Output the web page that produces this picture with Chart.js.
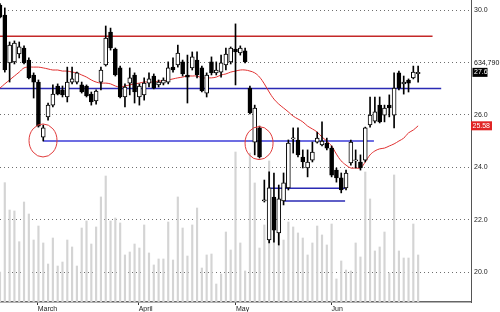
<!DOCTYPE html>
<html lang="en">
<head>
<meta charset="UTF-8">
<title>Daily price chart</title>
<script src="https://cdn.jsdelivr.net/npm/chart.js"></script>
<style>
    html, body { margin: 0; padding: 0; background: #fff; }
    #chart { display: block; }
</style>
</head>
<body>
<canvas id="chart" width="500" height="312"></canvas>
<script>
// one entry per trading day, day index 0..87
const opens = [30.19, 29.81, 27.98, 28.02, 28.32, 28.55, 28.09, 27.52, 27.25, 25.15,
    25.92, 26.37, 27.10, 26.95, 26.68, 27.25, 27.25, 27.14, 27.10, 26.79,
    26.53, 27.25, 27.90, 29.16, 28.51, 27.79, 26.68, 27.21, 27.52, 26.68,
    26.76, 27.21, 27.48, 27.14, 27.21, 27.25, 27.82, 27.90, 28.02, 27.52,
    27.79, 28.09, 27.79, 26.83, 28.02, 27.60, 27.63, 27.90, 28.02, 28.51,
    28.36, 28.44, 27.02, 24.96, 25.50, 22.71, 21.22, 22.86, 21.49, 22.71,
    23.21, 25.08, 25.04, 24.39, 23.97, 24.27, 24.96, 24.85, 24.92, 24.73,
    23.89, 23.59, 23.21, 24.16, 24.24, 24.20, 24.27, 25.61, 25.76, 26.37,
    25.99, 26.37, 25.99, 27.60, 27.18, 27.33, 27.41, 27.57];
const highs = [30.25, 30.08, 28.78, 28.82, 28.78, 28.63, 28.17, 27.60, 27.33, 25.61,
    26.45, 27.14, 27.18, 27.10, 27.82, 27.82, 27.63, 27.25, 27.14, 26.87,
    26.95, 27.82, 29.39, 29.31, 28.55, 27.86, 27.18, 27.79, 27.60, 27.18,
    27.41, 27.60, 27.56, 27.33, 27.41, 28.02, 28.17, 28.66, 28.09, 28.28,
    28.40, 28.40, 27.86, 27.60, 28.21, 28.02, 28.28, 28.55, 28.59, 29.47,
    28.63, 28.55, 27.10, 26.37, 25.57, 23.51, 23.82, 23.78, 23.32, 23.78,
    25.04, 25.50, 25.50, 24.66, 24.66, 24.96, 25.34, 25.73, 25.11, 24.81,
    23.97, 23.78, 23.89, 25.04, 24.66, 24.47, 25.53, 26.68, 26.68, 26.68,
    26.37, 26.76, 27.60, 27.67, 27.48, 27.37, 27.86, 27.86];
const lows = [29.70, 27.63, 27.25, 27.94, 28.17, 27.94, 27.37, 26.64, 25.53, 25.00,
    25.80, 26.30, 26.76, 26.68, 26.49, 27.18, 27.18, 26.83, 26.68, 26.37,
    26.41, 26.95, 27.86, 28.47, 27.48, 26.64, 26.30, 26.76, 26.45, 26.37,
    26.56, 27.06, 26.99, 27.06, 27.14, 27.18, 27.63, 27.82, 27.48, 26.45,
    27.71, 27.41, 26.87, 26.68, 27.52, 27.52, 27.44, 27.71, 27.94, 27.14,
    28.28, 27.98, 26.03, 24.47, 24.35, 22.67, 21.11, 21.14, 21.03, 22.56,
    23.13, 24.54, 24.39, 23.97, 23.63, 24.20, 24.92, 24.81, 24.66, 23.63,
    23.43, 23.02, 23.13, 24.08, 23.97, 23.89, 24.20, 25.53, 25.69, 25.69,
    25.73, 25.92, 25.50, 26.95, 26.79, 26.87, 27.37, 27.25];
const closes = [29.73, 27.71, 28.66, 28.74, 28.59, 27.98, 27.41, 27.25, 25.57, 25.50,
    26.37, 26.79, 26.79, 26.76, 27.25, 27.37, 27.60, 26.87, 26.72, 26.49,
    26.91, 27.71, 28.93, 28.55, 27.52, 26.68, 27.06, 27.41, 26.87, 27.10,
    27.21, 27.37, 27.02, 27.25, 27.33, 27.79, 27.71, 28.36, 27.56, 27.44,
    28.21, 27.52, 26.91, 27.52, 27.60, 27.71, 27.98, 28.32, 28.55, 28.40,
    28.55, 28.02, 26.07, 26.26, 24.39, 22.75, 23.21, 21.60, 22.79, 23.40,
    24.92, 25.11, 24.47, 24.20, 24.20, 24.58, 25.11, 25.00, 24.73, 23.70,
    23.59, 23.13, 23.78, 24.96, 24.27, 23.97, 25.50, 25.99, 26.11, 25.73,
    26.26, 26.26, 27.02, 27.02, 27.25, 27.21, 27.63, 27.62];
const movingAvg = [27.02, 27.18, 27.33, 27.48, 27.63, 27.79, 27.82, 27.82, 27.82, 27.79,
    27.75, 27.71, 27.71, 27.67, 27.67, 27.63, 27.60, 27.52, 27.44, 27.33,
    27.25, 27.21, 27.21, 27.18, 27.10, 27.06, 27.10, 27.14, 27.18, 27.21,
    27.25, 27.25, 27.25, 27.29, 27.29, 27.33, 27.37, 27.41, 27.44, 27.48,
    27.48, 27.48, 27.41, 27.41, 27.41, 27.44, 27.52, 27.56, 27.63, 27.67,
    27.71, 27.71, 27.67, 27.60, 27.44, 27.18, 26.87, 26.60, 26.41, 26.26,
    26.11, 25.95, 25.84, 25.73, 25.57, 25.46, 25.34, 25.15, 25.00, 24.81,
    24.50, 24.24, 24.08, 23.97, 23.97, 23.97, 24.20, 24.47, 24.62, 24.70,
    24.73, 24.81, 24.89, 25.00, 25.11, 25.31, 25.42, 25.58];
// volume in thousands
const volume = [405, 1611, 1242, 1229, 814, 1350, 1188, 837, 1026, 797,
    513, 864, 486, 540, 837, 743, 486, 999, 1094, 783,
    1013, 1418, 1701, 1094, 1134, 1067, 635, 675, 783, 729,
    1040, 662, 500, 581, 581, 1080, 567, 1418, 999, 621,
    1040, 1269, 459, 635, 648, 243, 378, 945, 702, 2025,
    797, 419, 2012, 1607, 729, 1040, 1904, 1175, 1377, 837,
    1080, 1013, 932, 864, 635, 797, 1026, 905, 770, 1053,
    311, 554, 432, 419, 797, 608, 1755, 1391, 689, 743,
    945, 392, 1715, 689, 594, 594, 1053, 634.79];

const monthTicks = [7.85, 28.85, 49.1, 69.0];
const monthLabels = ['March', 'April', 'May', 'Jun'];
const priceTicks = [20, 22, 24, 26, 28, 30];

// drawn support / resistance lines: price, first day, last day
const levelPrices = [29.0, 27.0, 25.0, 23.2, 22.71];
const levelStart = [0, 0, 9, 56.2, 58.9];
const levelEnd = [90, 91.8, 77.8, 71.8, 71.8];
const levelColors = ['#c42828', '#2a2ab4', '#3c3cd8', '#2a2ab4', '#2a2ab4'];

// hand drawn circles: day, price
const circleDays = [8.95, 53.9];
const circlePrices = [25.02, 24.92];

const days = closes.map((c, i) => i);

const wickData = days.map(i => ({ x: i, y: [lows[i], highs[i]] }));
const bodyData = days.map(i => ({ x: i, y: [opens[i], closes[i]] }));
const bodyFill = days.map(i => closes[i] >= opens[i] ? '#ffffff' : '#000000');
const volData = days.map(i => ({ x: i, y: volume[i] }));
const maData = days.map(i => ({ x: i, y: movingAvg[i] }));

const levelSets = levelPrices.map((p, j) => ({
    type: 'line',
    data: [{ x: levelStart[j], y: p }, { x: levelEnd[j], y: p }],
    borderColor: levelColors[j],
    borderWidth: 1.5,
    pointRadius: 0,
    yAxisID: 'y',
    order: 4
}));

const font = { family: '"Liberation Sans", Arial, sans-serif', size: 7 };

// circles and the price tags on the right edge
const extras = {
    id: 'extras',
    afterDatasetsDraw(chart) {
        const { ctx, scales: { x, y } } = chart;
        ctx.save();
        ctx.strokeStyle = '#e03a3a';
        ctx.lineWidth = 1;
        circleDays.forEach((d, j) => {
            ctx.beginPath();
            ctx.ellipse(x.getPixelForValue(d), y.getPixelForValue(circlePrices[j]), 14, 16.5, 0, 0, Math.PI * 2);
            ctx.stroke();
        });
        ctx.restore();
    },
    afterDraw(chart) {
        const { ctx, chartArea, scales: { y } } = chart;
        const last = closes.length - 1;
        const left = chartArea.right;
        const yc = y.getPixelForValue(closes[last]);
        const ym = y.getPixelForValue(movingAvg[last]);
        ctx.save();
        ctx.font = '7px "Liberation Sans", Arial, sans-serif';
        ctx.textBaseline = 'middle';
        ctx.textAlign = 'left';
        ctx.fillStyle = '#111';
        ctx.fillText(volume[last].toLocaleString('en-US', { minimumFractionDigits: 3 }).replace('.', ','), left + 3, yc - 9);
        ctx.fillStyle = '#000';
        ctx.fillRect(left + 1.5, yc - 4.5, 15, 9);
        ctx.fillStyle = '#fff';
        ctx.fillText(closes[last].toFixed(1), left + 3, yc);
        ctx.fillStyle = '#e02424';
        ctx.fillRect(left, ym - 4.5, 21, 9);
        ctx.fillStyle = '#fff';
        ctx.fillText(movingAvg[last].toFixed(2), left + 1.5, ym);
        ctx.restore();
    }
};

new Chart(document.getElementById('chart'), {
    type: 'bar',
    data: {
        datasets: [
            {
                data: bodyData,
                backgroundColor: bodyFill,
                borderColor: '#000',
                borderWidth: 1,
                borderSkipped: false,
                barThickness: 4,
                minBarLength: 1,
                grouped: false,
                yAxisID: 'y',
                order: 1
            },
            {
                data: wickData,
                backgroundColor: '#000',
                barThickness: 1,
                grouped: false,
                yAxisID: 'y',
                order: 2
            },
            {
                type: 'line',
                data: maData,
                borderColor: '#e03030',
                borderWidth: 1,
                pointRadius: 0,
                tension: 0.4,
                yAxisID: 'y',
                order: 3
            },
            ...levelSets,
            {
                data: volData,
                backgroundColor: '#d4d4d4',
                barThickness: 1.5,
                grouped: false,
                yAxisID: 'vol',
                order: 5
            }
        ]
    },
    options: {
        responsive: false,
        animation: false,
        layout: { padding: 0 },
        plugins: {
            legend: { display: false },
            tooltip: { enabled: false }
        },
        scales: {
            x: {
                type: 'linear',
                offset: false,
                min: 0,
                max: 98,
                afterBuildTicks: s => { s.ticks = monthTicks.map(v => ({ value: v })); },
                afterFit: s => { s.height = 10; s.paddingLeft = 0; s.paddingRight = 0; },
                ticks: {
                    autoSkip: false,
                    maxRotation: 0,
                    align: 'start',
                    padding: 0,
                    color: '#222',
                    font: font,
                    callback: (v, i) => monthLabels[i]
                },
                grid: { offset: false, drawOnChartArea: false, drawTicks: true, tickLength: 3, tickColor: '#333' },
                border: { color: '#666', width: 1.5 }
            },
            y: {
                position: 'right',
                min: 18.855,
                max: 30.382,
                afterBuildTicks: s => { s.ticks = priceTicks.map(v => ({ value: v })); },
                afterFit: s => { s.width = 29; s.paddingTop = 0; s.paddingBottom = 0; },
                ticks: {
                    padding: 3,
                    color: '#222',
                    font: font,
                    callback: v => v === 28 ? '' : v.toFixed(1)
                },
                grid: { color: '#6e6e6e', lineWidth: 1, drawTicks: false },
                border: { color: '#555', width: 1, dash: [1, 3] }
            },
            vol: {
                display: false,
                min: 0,
                max: 4077
            }
        }
    },
    plugins: [extras]
});
</script>
</body>
</html>
